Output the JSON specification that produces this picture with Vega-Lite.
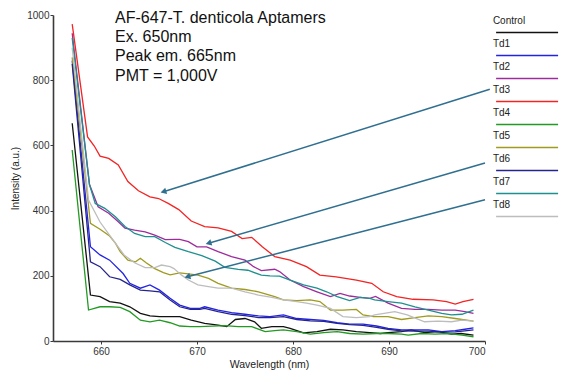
{
  "$schema": "https://vega.github.io/schema/vega-lite/v6.json",
  "width": 432,
  "height": 326,
  "autosize": {"type": "none"},
  "padding": {"left": 53, "top": 15, "right": 86, "bottom": 29},
  "background": "white",
  "config": {
    "font": "Liberation Sans",
    "view": {"stroke": null},
    "axis": {"domainColor": "#3a3a3a", "domainWidth": 1.6, "tickColor": "#3a3a3a", "tickSize": 3, "labelFontSize": 10, "labelColor": "#333333", "titleFontSize": 10.5, "titleFontWeight": "normal", "titleColor": "#222222", "grid": false}
  },
  "datasets": {
    "spectra": [
      {"series":"Control","wavelength":657,"intensity":668},{"series":"Control","wavelength":658.9,"intensity":141},{"series":"Control","wavelength":659.9,"intensity":136},{"series":"Control","wavelength":660.9,"intensity":121},{"series":"Control","wavelength":662,"intensity":116},{"series":"Control","wavelength":663,"intensity":105},{"series":"Control","wavelength":664.1,"intensity":85},{"series":"Control","wavelength":665.1,"intensity":77},{"series":"Control","wavelength":666.1,"intensity":75},{"series":"Control","wavelength":667.2,"intensity":75},{"series":"Control","wavelength":668.2,"intensity":75},{"series":"Control","wavelength":669.4,"intensity":64},{"series":"Control","wavelength":670.8,"intensity":54},{"series":"Control","wavelength":672.2,"intensity":49},{"series":"Control","wavelength":673.1,"intensity":44},{"series":"Control","wavelength":674,"intensity":66},{"series":"Control","wavelength":675,"intensity":69},{"series":"Control","wavelength":676,"intensity":59},{"series":"Control","wavelength":676.7,"intensity":39},{"series":"Control","wavelength":677.8,"intensity":44},{"series":"Control","wavelength":679,"intensity":44},{"series":"Control","wavelength":679.7,"intensity":39},{"series":"Control","wavelength":681.1,"intensity":25},{"series":"Control","wavelength":682.5,"intensity":29},{"series":"Control","wavelength":683.9,"intensity":36},{"series":"Control","wavelength":685.2,"intensity":34},{"series":"Control","wavelength":686.6,"intensity":29},{"series":"Control","wavelength":688,"intensity":26},{"series":"Control","wavelength":689.1,"intensity":23},{"series":"Control","wavelength":689.9,"intensity":26},{"series":"Control","wavelength":691.3,"intensity":29},{"series":"Control","wavelength":692.3,"intensity":34},{"series":"Control","wavelength":693.7,"intensity":26},{"series":"Control","wavelength":695.1,"intensity":29},{"series":"Control","wavelength":696.5,"intensity":21},{"series":"Control","wavelength":697.5,"intensity":23},{"series":"Control","wavelength":698.8,"intensity":18},
      {"series":"Td1","wavelength":657,"intensity":860},{"series":"Td1","wavelength":658.9,"intensity":289},{"series":"Td1","wavelength":659.9,"intensity":264},{"series":"Td1","wavelength":660.9,"intensity":248},{"series":"Td1","wavelength":662.3,"intensity":207},{"series":"Td1","wavelength":663,"intensity":177},{"series":"Td1","wavelength":664.1,"intensity":162},{"series":"Td1","wavelength":665.1,"intensity":172},{"series":"Td1","wavelength":666.1,"intensity":156},{"series":"Td1","wavelength":667.2,"intensity":131},{"series":"Td1","wavelength":668.2,"intensity":110},{"series":"Td1","wavelength":669.3,"intensity":100},{"series":"Td1","wavelength":670.3,"intensity":100},{"series":"Td1","wavelength":670.8,"intensity":105},{"series":"Td1","wavelength":672.2,"intensity":95},{"series":"Td1","wavelength":673.6,"intensity":87},{"series":"Td1","wavelength":675,"intensity":82},{"series":"Td1","wavelength":676.4,"intensity":77},{"series":"Td1","wavelength":677.6,"intensity":75},{"series":"Td1","wavelength":679,"intensity":80},{"series":"Td1","wavelength":680.4,"intensity":69},{"series":"Td1","wavelength":681.8,"intensity":66},{"series":"Td1","wavelength":683.2,"intensity":63},{"series":"Td1","wavelength":684.6,"intensity":56},{"series":"Td1","wavelength":685.9,"intensity":52},{"series":"Td1","wavelength":687.3,"intensity":52},{"series":"Td1","wavelength":688.7,"intensity":46},{"series":"Td1","wavelength":689.9,"intensity":39},{"series":"Td1","wavelength":691.3,"intensity":34},{"series":"Td1","wavelength":692.7,"intensity":34},{"series":"Td1","wavelength":694.1,"intensity":34},{"series":"Td1","wavelength":695.5,"intensity":29},{"series":"Td1","wavelength":696.9,"intensity":32},{"series":"Td1","wavelength":697.9,"intensity":36},{"series":"Td1","wavelength":698.8,"intensity":40},
      {"series":"Td2","wavelength":657,"intensity":944},{"series":"Td2","wavelength":658.8,"intensity":480},{"series":"Td2","wavelength":659.7,"intensity":412},{"series":"Td2","wavelength":660.8,"intensity":392},{"series":"Td2","wavelength":661.8,"intensity":366},{"series":"Td2","wavelength":662.5,"intensity":346},{"series":"Td2","wavelength":663.5,"intensity":340},{"series":"Td2","wavelength":664.6,"intensity":335},{"series":"Td2","wavelength":665.6,"intensity":325},{"series":"Td2","wavelength":666.7,"intensity":311},{"series":"Td2","wavelength":667.7,"intensity":312},{"series":"Td2","wavelength":668.2,"intensity":312},{"series":"Td2","wavelength":669.1,"intensity":305},{"series":"Td2","wavelength":670,"intensity":289},{"series":"Td2","wavelength":671,"intensity":289},{"series":"Td2","wavelength":672.2,"intensity":274},{"series":"Td2","wavelength":673.6,"intensity":259},{"series":"Td2","wavelength":675,"intensity":248},{"series":"Td2","wavelength":675.9,"intensity":228},{"series":"Td2","wavelength":676.7,"intensity":216},{"series":"Td2","wavelength":678.1,"intensity":220},{"series":"Td2","wavelength":678.6,"intensity":213},{"series":"Td2","wavelength":679.7,"intensity":187},{"series":"Td2","wavelength":681.1,"intensity":167},{"series":"Td2","wavelength":682.5,"intensity":151},{"series":"Td2","wavelength":683.9,"intensity":136},{"series":"Td2","wavelength":684.9,"intensity":146},{"series":"Td2","wavelength":685.9,"intensity":138},{"series":"Td2","wavelength":687,"intensity":134},{"series":"Td2","wavelength":688,"intensity":131},{"series":"Td2","wavelength":688.6,"intensity":137},{"series":"Td2","wavelength":689.9,"intensity":116},{"series":"Td2","wavelength":691.3,"intensity":100},{"series":"Td2","wavelength":692.7,"intensity":97},{"series":"Td2","wavelength":694.1,"intensity":97},{"series":"Td2","wavelength":695.5,"intensity":95},{"series":"Td2","wavelength":696.9,"intensity":95},{"series":"Td2","wavelength":697.9,"intensity":90},{"series":"Td2","wavelength":698.8,"intensity":85},
      {"series":"Td3","wavelength":657,"intensity":972},{"series":"Td3","wavelength":658.6,"intensity":626},{"series":"Td3","wavelength":659.3,"intensity":598},{"series":"Td3","wavelength":659.9,"intensity":567},{"series":"Td3","wavelength":660.8,"intensity":560},{"series":"Td3","wavelength":661.8,"intensity":540},{"series":"Td3","wavelength":662.8,"intensity":489},{"series":"Td3","wavelength":663.9,"intensity":461},{"series":"Td3","wavelength":665.1,"intensity":442},{"series":"Td3","wavelength":666,"intensity":437},{"series":"Td3","wavelength":667,"intensity":422},{"series":"Td3","wavelength":668.1,"intensity":403},{"series":"Td3","wavelength":669.4,"intensity":368},{"series":"Td3","wavelength":670.8,"intensity":351},{"series":"Td3","wavelength":672.2,"intensity":347},{"series":"Td3","wavelength":673.6,"intensity":336},{"series":"Td3","wavelength":674.7,"intensity":314},{"series":"Td3","wavelength":675.7,"intensity":318},{"series":"Td3","wavelength":676.8,"intensity":289},{"series":"Td3","wavelength":678.1,"intensity":259},{"series":"Td3","wavelength":679.7,"intensity":248},{"series":"Td3","wavelength":681.4,"intensity":228},{"series":"Td3","wavelength":682.8,"intensity":202},{"series":"Td3","wavelength":684.5,"intensity":197},{"series":"Td3","wavelength":686.6,"intensity":187},{"series":"Td3","wavelength":688.2,"intensity":177},{"series":"Td3","wavelength":689.4,"intensity":151},{"series":"Td3","wavelength":690.8,"intensity":136},{"series":"Td3","wavelength":692.5,"intensity":128},{"series":"Td3","wavelength":694.6,"intensity":126},{"series":"Td3","wavelength":696,"intensity":121},{"series":"Td3","wavelength":696.9,"intensity":113},{"series":"Td3","wavelength":697.7,"intensity":121},{"series":"Td3","wavelength":698.8,"intensity":128},
      {"series":"Td4","wavelength":657,"intensity":586},{"series":"Td4","wavelength":658.7,"intensity":95},{"series":"Td4","wavelength":659.9,"intensity":105},{"series":"Td4","wavelength":660.9,"intensity":105},{"series":"Td4","wavelength":662,"intensity":103},{"series":"Td4","wavelength":663,"intensity":90},{"series":"Td4","wavelength":664.1,"intensity":64},{"series":"Td4","wavelength":665.1,"intensity":59},{"series":"Td4","wavelength":666.1,"intensity":64},{"series":"Td4","wavelength":667.2,"intensity":56},{"series":"Td4","wavelength":668.2,"intensity":46},{"series":"Td4","wavelength":669.3,"intensity":44},{"series":"Td4","wavelength":670.3,"intensity":44},{"series":"Td4","wavelength":672.9,"intensity":47},{"series":"Td4","wavelength":674.3,"intensity":44},{"series":"Td4","wavelength":675.7,"intensity":44},{"series":"Td4","wavelength":677.1,"intensity":29},{"series":"Td4","wavelength":678.1,"intensity":32},{"series":"Td4","wavelength":679,"intensity":34},{"series":"Td4","wavelength":680.4,"intensity":29},{"series":"Td4","wavelength":681.8,"intensity":21},{"series":"Td4","wavelength":683.2,"intensity":26},{"series":"Td4","wavelength":684.6,"intensity":29},{"series":"Td4","wavelength":685.9,"intensity":23},{"series":"Td4","wavelength":687.3,"intensity":21},{"series":"Td4","wavelength":688.7,"intensity":23},{"series":"Td4","wavelength":689.9,"intensity":23},{"series":"Td4","wavelength":691.3,"intensity":21},{"series":"Td4","wavelength":692,"intensity":18},{"series":"Td4","wavelength":693.4,"intensity":23},{"series":"Td4","wavelength":694.8,"intensity":21},{"series":"Td4","wavelength":696.2,"intensity":23},{"series":"Td4","wavelength":697.6,"intensity":18},{"series":"Td4","wavelength":698.8,"intensity":13},
      {"series":"Td5","wavelength":657,"intensity":870},{"series":"Td5","wavelength":658.9,"intensity":361},{"series":"Td5","wavelength":659.9,"intensity":343},{"series":"Td5","wavelength":660.9,"intensity":322},{"series":"Td5","wavelength":661.5,"intensity":300},{"series":"Td5","wavelength":662,"intensity":274},{"series":"Td5","wavelength":662.8,"intensity":248},{"series":"Td5","wavelength":663.6,"intensity":243},{"series":"Td5","wavelength":664.1,"intensity":254},{"series":"Td5","wavelength":664.7,"intensity":240},{"series":"Td5","wavelength":665.6,"intensity":222},{"series":"Td5","wavelength":666.5,"intensity":210},{"series":"Td5","wavelength":667.2,"intensity":203},{"series":"Td5","wavelength":668.2,"intensity":209},{"series":"Td5","wavelength":669.1,"intensity":206},{"series":"Td5","wavelength":670.1,"intensity":202},{"series":"Td5","wavelength":671.2,"intensity":192},{"series":"Td5","wavelength":672.2,"intensity":177},{"series":"Td5","wavelength":673.6,"intensity":162},{"series":"Td5","wavelength":675,"intensity":158},{"series":"Td5","wavelength":676.4,"intensity":151},{"series":"Td5","wavelength":678.1,"intensity":136},{"series":"Td5","wavelength":679,"intensity":126},{"series":"Td5","wavelength":680.4,"intensity":124},{"series":"Td5","wavelength":681.8,"intensity":126},{"series":"Td5","wavelength":682.8,"intensity":121},{"series":"Td5","wavelength":683.9,"intensity":95},{"series":"Td5","wavelength":685.2,"intensity":95},{"series":"Td5","wavelength":686.6,"intensity":97},{"series":"Td5","wavelength":687.3,"intensity":80},{"series":"Td5","wavelength":688.4,"intensity":75},{"series":"Td5","wavelength":689.9,"intensity":75},{"series":"Td5","wavelength":691.3,"intensity":66},{"series":"Td5","wavelength":692.7,"intensity":72},{"series":"Td5","wavelength":694.1,"intensity":77},{"series":"Td5","wavelength":695.5,"intensity":75},{"series":"Td5","wavelength":696.9,"intensity":69},{"series":"Td5","wavelength":698.8,"intensity":61},
      {"series":"Td6","wavelength":657,"intensity":850},{"series":"Td6","wavelength":658.9,"intensity":243},{"series":"Td6","wavelength":659.9,"intensity":228},{"series":"Td6","wavelength":660.9,"intensity":197},{"series":"Td6","wavelength":662,"intensity":189},{"series":"Td6","wavelength":663,"intensity":172},{"series":"Td6","wavelength":664.1,"intensity":156},{"series":"Td6","wavelength":665.1,"intensity":154},{"series":"Td6","wavelength":666.1,"intensity":151},{"series":"Td6","wavelength":667.2,"intensity":126},{"series":"Td6","wavelength":668.2,"intensity":105},{"series":"Td6","wavelength":669.3,"intensity":97},{"series":"Td6","wavelength":670.3,"intensity":97},{"series":"Td6","wavelength":670.8,"intensity":100},{"series":"Td6","wavelength":672.2,"intensity":90},{"series":"Td6","wavelength":673.6,"intensity":82},{"series":"Td6","wavelength":675,"intensity":78},{"series":"Td6","wavelength":676.4,"intensity":72},{"series":"Td6","wavelength":677.6,"intensity":72},{"series":"Td6","wavelength":679,"intensity":75},{"series":"Td6","wavelength":680.4,"intensity":66},{"series":"Td6","wavelength":681.8,"intensity":62},{"series":"Td6","wavelength":683.2,"intensity":60},{"series":"Td6","wavelength":684.6,"intensity":54},{"series":"Td6","wavelength":685.9,"intensity":50},{"series":"Td6","wavelength":687.3,"intensity":48},{"series":"Td6","wavelength":688.7,"intensity":42},{"series":"Td6","wavelength":689.9,"intensity":36},{"series":"Td6","wavelength":691.3,"intensity":31},{"series":"Td6","wavelength":692.7,"intensity":30},{"series":"Td6","wavelength":694.1,"intensity":30},{"series":"Td6","wavelength":695.5,"intensity":27},{"series":"Td6","wavelength":696.9,"intensity":28},{"series":"Td6","wavelength":697.9,"intensity":31},{"series":"Td6","wavelength":698.8,"intensity":34},
      {"series":"Td7","wavelength":657,"intensity":930},{"series":"Td7","wavelength":658.8,"intensity":480},{"series":"Td7","wavelength":659.4,"intensity":422},{"series":"Td7","wavelength":660.4,"intensity":407},{"series":"Td7","wavelength":661.5,"intensity":381},{"series":"Td7","wavelength":662.5,"intensity":351},{"series":"Td7","wavelength":663.5,"intensity":330},{"series":"Td7","wavelength":664.6,"intensity":320},{"series":"Td7","wavelength":665.6,"intensity":320},{"series":"Td7","wavelength":666.7,"intensity":302},{"series":"Td7","wavelength":667.7,"intensity":287},{"series":"Td7","wavelength":669.1,"intensity":274},{"series":"Td7","wavelength":670.5,"intensity":262},{"series":"Td7","wavelength":671.9,"intensity":245},{"series":"Td7","wavelength":672.9,"intensity":226},{"series":"Td7","wavelength":674.3,"intensity":220},{"series":"Td7","wavelength":675.3,"intensity":217},{"series":"Td7","wavelength":676.7,"intensity":202},{"series":"Td7","wavelength":677.6,"intensity":200},{"series":"Td7","wavelength":678.6,"intensity":199},{"series":"Td7","wavelength":679.7,"intensity":187},{"series":"Td7","wavelength":681.1,"intensity":172},{"series":"Td7","wavelength":682.5,"intensity":162},{"series":"Td7","wavelength":683.5,"intensity":151},{"series":"Td7","wavelength":684.6,"intensity":136},{"series":"Td7","wavelength":685.9,"intensity":124},{"series":"Td7","wavelength":687,"intensity":134},{"series":"Td7","wavelength":688,"intensity":131},{"series":"Td7","wavelength":688.5,"intensity":126},{"series":"Td7","wavelength":689.9,"intensity":121},{"series":"Td7","wavelength":691.3,"intensity":116},{"series":"Td7","wavelength":692.7,"intensity":105},{"series":"Td7","wavelength":694.1,"intensity":95},{"series":"Td7","wavelength":695.5,"intensity":85},{"series":"Td7","wavelength":696.5,"intensity":80},{"series":"Td7","wavelength":697.6,"intensity":82},{"series":"Td7","wavelength":698.8,"intensity":95},
      {"series":"Td8","wavelength":657,"intensity":900},{"series":"Td8","wavelength":658.7,"intensity":432},{"series":"Td8","wavelength":659.9,"intensity":365},{"series":"Td8","wavelength":661,"intensity":320},{"series":"Td8","wavelength":662.4,"intensity":264},{"series":"Td8","wavelength":663.5,"intensity":240},{"series":"Td8","wavelength":664.6,"intensity":225},{"series":"Td8","wavelength":665.6,"intensity":225},{"series":"Td8","wavelength":666.3,"intensity":233},{"series":"Td8","wavelength":667.2,"intensity":228},{"series":"Td8","wavelength":667.6,"intensity":222},{"series":"Td8","wavelength":668.4,"intensity":202},{"series":"Td8","wavelength":669.1,"intensity":187},{"series":"Td8","wavelength":670.1,"intensity":172},{"series":"Td8","wavelength":671.2,"intensity":167},{"series":"Td8","wavelength":672.2,"intensity":162},{"series":"Td8","wavelength":673.6,"intensity":162},{"series":"Td8","wavelength":675,"intensity":151},{"series":"Td8","wavelength":676.4,"intensity":141},{"series":"Td8","wavelength":677.8,"intensity":134},{"series":"Td8","wavelength":679,"intensity":126},{"series":"Td8","wavelength":680.4,"intensity":121},{"series":"Td8","wavelength":681.4,"intensity":116},{"series":"Td8","wavelength":682.5,"intensity":110},{"series":"Td8","wavelength":683.9,"intensity":100},{"series":"Td8","wavelength":685.2,"intensity":75},{"series":"Td8","wavelength":686.6,"intensity":72},{"series":"Td8","wavelength":688,"intensity":75},{"series":"Td8","wavelength":688.5,"intensity":80},{"series":"Td8","wavelength":689.5,"intensity":85},{"series":"Td8","wavelength":690.6,"intensity":90},{"series":"Td8","wavelength":691.9,"intensity":80},{"series":"Td8","wavelength":693.7,"intensity":59},{"series":"Td8","wavelength":695.1,"intensity":61},{"series":"Td8","wavelength":696.5,"intensity":59},{"series":"Td8","wavelength":697.6,"intensity":64},{"series":"Td8","wavelength":698.8,"intensity":61}
    ],
    "notes": [
      {"wavelength": 661.46, "intensity": 974, "text": "AF-647-T. denticola Aptamers"},
      {"wavelength": 661.46, "intensity": 918, "text": "Ex. 650nm"},
      {"wavelength": 661.46, "intensity": 859, "text": "Peak em. 665nm"},
      {"wavelength": 661.46, "intensity": 799, "text": "PMT = 1,000V"}
    ],
    "arrows": [
      {"from_wl": 700.5, "from_int": 772, "to_wl": 666.5, "to_int": 458},
      {"from_wl": 700, "from_int": 546, "to_wl": 671.2, "to_int": 300},
      {"from_wl": 700, "from_int": 433, "to_wl": 669.0, "to_int": 197}
    ]
  },
  "layer": [
    {
      "data": {"name": "spectra"},
      "mark": {"type": "line", "strokeWidth": 1.3, "clip": false},
      "encoding": {
        "x": {"field": "wavelength", "type": "quantitative", "scale": {"domain": [655, 700], "nice": false, "zero": false}, "axis": {"title": "Wavelength (nm)", "values": [660, 670, 680, 690, 700], "labelPadding": 2, "titlePadding": 3}},
        "y": {"field": "intensity", "type": "quantitative", "scale": {"domain": [0, 1000], "nice": false}, "axis": {"title": "Intensity (a.u.)", "values": [0, 200, 400, 600, 800, 1000], "format": "d", "labelPadding": 1, "titlePadding": 6, "titleFontSize": 10}},
        "color": {
          "field": "series", "type": "nominal",
          "scale": {"domain": ["Control", "Td1", "Td2", "Td3", "Td4", "Td5", "Td6", "Td7", "Td8"], "range": ["#111111", "#2323e6", "#9c2c9c", "#f22424", "#239a23", "#a09a1e", "#24248c", "#1f8f8f", "#bdbdbd"]},
          "legend": {"orient": "none", "legendX": 454.1, "legendY": -2.6, "title": null, "symbolType": "M-1.64,0H1.64", "symbolSize": 1429, "symbolStrokeWidth": 1.5, "labelOffset": -54.2, "labelBaseline": "alphabetic", "labelFontSize": 10, "labelColor": "#222222", "rowPadding": 0, "encoding": {"labels": {"dy": {"value": -8.5}}}}
        },
        "detail": {"field": "series"}
      }
    },
    {
      "data": {"name": "notes"},
      "mark": {"type": "text", "align": "left", "baseline": "alphabetic", "fontSize": 16, "color": "#111111"},
      "encoding": {
        "x": {"field": "wavelength", "type": "quantitative"},
        "y": {"field": "intensity", "type": "quantitative"},
        "text": {"field": "text"}
      }
    },
    {
      "data": {"name": "arrows"},
      "mark": {"type": "rule", "color": "#2f6f8f", "strokeWidth": 1.5},
      "encoding": {
        "x": {"field": "from_wl", "type": "quantitative"},
        "y": {"field": "from_int", "type": "quantitative"},
        "x2": {"field": "to_wl"},
        "y2": {"field": "to_int"}
      }
    },
    {
      "data": {"name": "arrows"},
      "mark": {"type": "point", "shape": "triangle-left", "filled": true, "size": 45, "angle": 344, "color": "#2f6f8f", "opacity": 1},
      "encoding": {
        "x": {"field": "to_wl", "type": "quantitative"},
        "y": {"field": "to_int", "type": "quantitative"}
      }
    }
  ]
}
